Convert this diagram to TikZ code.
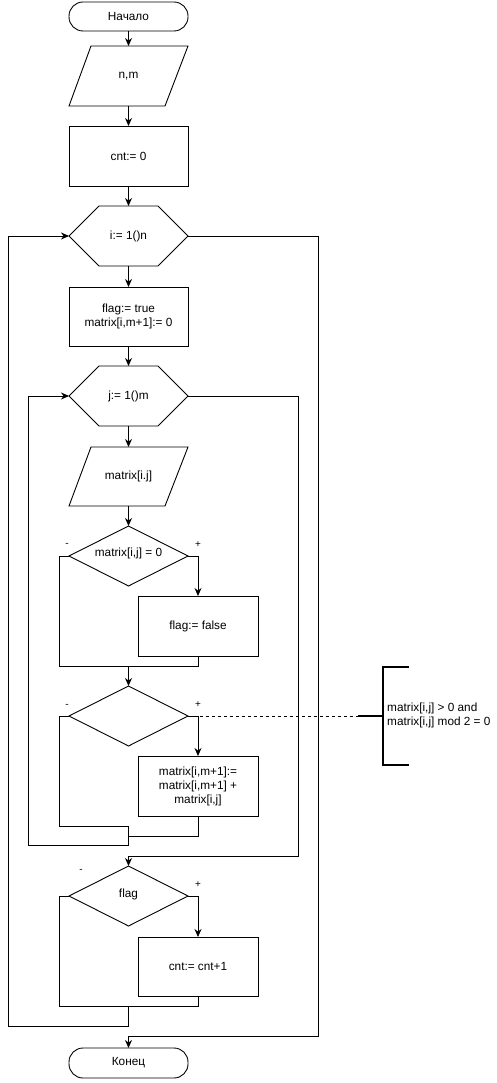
\documentclass[tikz,border=0pt]{standalone}
\usepackage{fontspec}
\setmainfont{Liberation Sans}
\usetikzlibrary{arrows.meta}
\begin{document}
\begin{tikzpicture}[x=1pt,y=-1pt,
  every node/.style={font=\fontsize{11.8}{14}\selectfont, inner sep=0pt},
  ln/.style={line width=0.9pt},
  arr/.style={ln,-{Stealth[length=8pt,width=7pt]}},
  lbl/.style={font=\fontsize{10}{10}\selectfont}]
\useasboundingbox (0,0) rectangle (497,1083);
% shapes
\draw[ln,rounded corners=14pt] (69,2) rectangle (188,31);
\node (start) at (128.5,16.5) {Начало};
\draw[ln] (91,46) -- (188,46) -- (165,106) -- (69,106) -- cycle;
\node (in1) at (128.5,76) {n,m};
\draw[ln] (69,126) rectangle (188,186);
\node (cnt0) at (128.5,156) {cnt:= 0};
\draw[ln] (69,236) -- (99,206) -- (158,206) -- (188,236) -- (158,266) -- (99,266) -- cycle;
\node (hi) at (128.5,236) {i:= 1()n};
\draw[ln] (69,287) rectangle (188,346);
\node[align=center] (init) at (128.5,316.5) {flag:= true\\matrix[i,m+1]:= 0};
\draw[ln] (69,396) -- (99,366) -- (158,366) -- (188,396) -- (158,426) -- (99,426) -- cycle;
\node (hj) at (128.5,396) {j:= 1()m};
\draw[ln] (91,447) -- (188,447) -- (165,506) -- (69,506) -- cycle;
\node (in2) at (128.5,476.5) {matrix[i.j]};
\draw[ln] (128.5,526) -- (188,556) -- (128.5,586) -- (69,556) -- cycle;
\node (d1) at (128.5,553) {matrix[i,j] = 0};
\node[lbl] at (67,545) {-};
\node[lbl] at (198,545) {+};
\draw[ln] (138,596) rectangle (258,656);
\node (ff) at (198,626) {flag:= false};
\draw[ln] (128.5,686) -- (188,716) -- (128.5,746) -- (69,716) -- cycle;
\node[lbl] at (67,706) {-};
\node[lbl] at (198,705) {+};
\draw[ln] (138,756) rectangle (258,816);
\node[align=center] (sum) at (198,786) {matrix[i,m+1]:=\\matrix[i,m+1] +\\matrix[i,j]};
\draw[ln] (128.5,866) -- (188,896) -- (128.5,926) -- (69,896) -- cycle;
\node (d3) at (128.5,894) {flag};
\node[lbl] at (81,871) {-};
\node[lbl] at (198,885) {+};
\draw[ln] (138,937) rectangle (258,996);
\node (inc) at (198,966.5) {cnt:= cnt+1};
\draw[ln,rounded corners=14pt] (69,1048) rectangle (188,1078);
\node (end) at (128.5,1063) {Конец};
% connectors
\draw[arr] (128.5,31) -- (128.5,46);
\draw[arr] (128.5,106) -- (128.5,126);
\draw[arr] (128.5,186) -- (128.5,206);
\draw[arr] (128.5,266) -- (128.5,287);
\draw[arr] (128.5,346) -- (128.5,366);
\draw[arr] (128.5,426) -- (128.5,447);
\draw[arr] (128.5,506) -- (128.5,526);
\draw[arr] (188,556) -- (198,556) -- (198,596);
\draw[ln] (198,656) -- (198,666) -- (128.5,666);
\draw[arr] (69,556) -- (59,556) -- (59,666) -- (128.5,666) -- (128.5,686);
\draw[arr] (188,716) -- (198,716) -- (198,756);
\draw[ln] (198,816) -- (198,836) -- (128.5,836);
\draw[arr] (69,716) -- (59,716) -- (59,826) -- (128.5,826) -- (128.5,845) -- (28,845) -- (28,396) -- (69,396);
\draw[arr] (188,396) -- (298,396) -- (298,856) -- (128.5,856) -- (128.5,866);
\draw[arr] (188,896) -- (198,896) -- (198,937);
\draw[ln] (198,996) -- (198,1006) -- (128.5,1006);
\draw[arr] (69,896) -- (59,896) -- (59,1006) -- (128.5,1006) -- (128.5,1026) -- (8,1026) -- (8,236) -- (69,236);
\draw[arr] (188,236) -- (318,236) -- (318,1036) -- (128.5,1036) -- (128.5,1048);
% annotation
\draw[ln,dash pattern=on 3pt off 3pt] (188,716) -- (358,716);
\draw[line width=1.6pt] (358,716) -- (383,716);
\draw[line width=1.6pt] (409,667) -- (383,667) -- (383,765) -- (409,765);
\node[align=left,anchor=west] (note) at (387,715) {matrix[i,j] > 0 and\\matrix[i,j] mod 2 = 0};
\end{tikzpicture}
\end{document}
